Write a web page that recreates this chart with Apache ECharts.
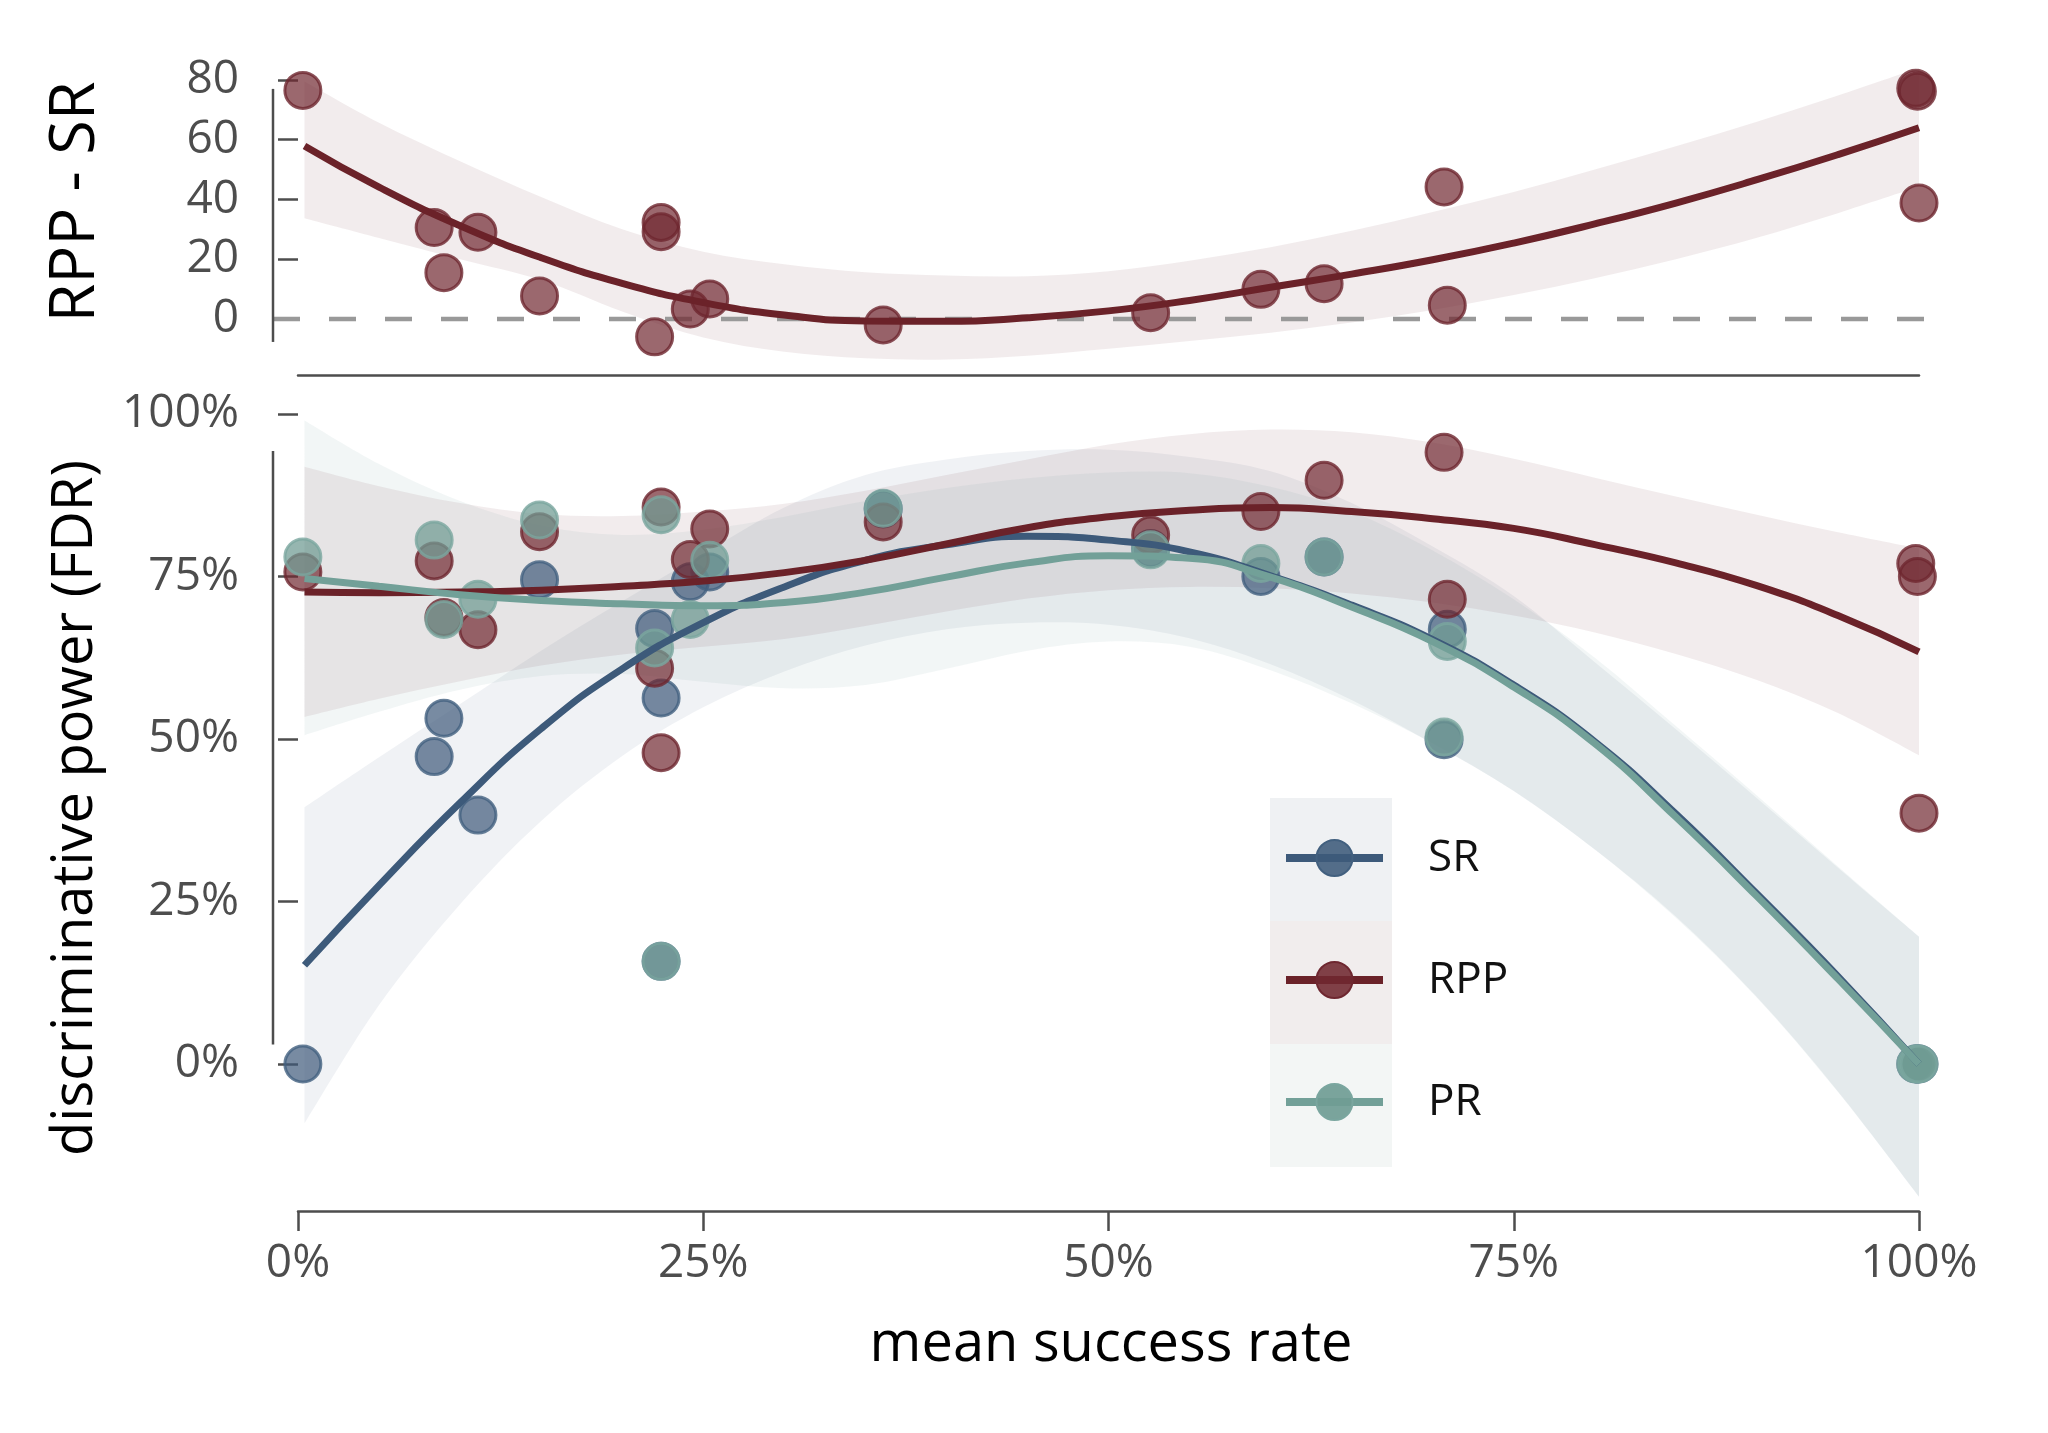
<!DOCTYPE html>
<html>
<head>
<meta charset="utf-8">
<script src="https://cdn.jsdelivr.net/npm/echarts@6/dist/echarts.min.js"></script>
<style>
  html, body { margin: 0; padding: 0; background: #fff; }
  #chart { width: 2048px; height: 1433px; }
</style>
</head>
<body>
<div id="chart"></div>
<script>
// one entry per task, x = mean success rate (%)
const successRate = [0.3, 8.4, 9.0, 11.1, 14.9, 22.0, 22.4, 22.4, 24.2, 25.4, 36.1, 52.6, 59.4, 63.3, 70.7, 70.9, 99.8, 99.9, 100];
const srPower  = [0, 47.3, 53.2, 38.3, 74.5, 67.0, 56.3, 15.8, 74.2, 75.7, 85.4, 79.3, 75.0, 78.0, 49.9, 66.9, 0, 0, 0];
const rppPower = [75.7, 77.4, 68.7, 66.8, 81.9, 60.9, 85.7, 47.9, 77.6, 82.3, 83.4, 81.4, 85.0, 89.8, 94.1, 71.5, 77.0, 75.0, 38.6];
const prPower  = [78.0, 80.6, 68.4, 71.5, 83.7, 64.0, 84.5, 15.8, 68.4, 77.5, 85.5, 79.1, 77.0, 78.0, 50.3, 65.0, 0, 0, 0];
const rppMinusSr = [76.5, 30.6, 15.5, 29.0, 7.7, -6.0, 29.2, 32.3, 3.3, 6.7, -2.0, 2.1, 9.9, 11.8, 44.2, 4.6, 77.2, 76.2, 38.8];

// fitted curves and their confidence bands, read at these x positions
const fitX = [0.4, 5, 10, 15, 20, 25, 30, 35, 40, 45, 50, 55, 60, 65, 70, 75, 80, 85, 90, 95, 100];
const srFit   = [15.2, 27.5, 40.2, 51.6, 60.8, 67.9, 73.4, 77.5, 79.9, 81.2, 80.6, 78.8, 75.1, 70.6, 65.3, 58.3, 49.6, 38.5, 26.2, 13.5, 0];
const srUpper = [39.5, 47.2, 55.4, 63.6, 71.2, 78.5, 85.6, 90.6, 93.0, 94.3, 94.5, 93.4, 91.2, 86.3, 79.6, 72.0, 61.8, 51.5, 40.9, 30.2, 19.6];
const srLower = [-9.1, 9.1, 24.6, 37.4, 47.4, 54.9, 60.4, 64.4, 66.9, 67.9, 67.6, 65.5, 61.5, 56.0, 49.3, 42.0, 33.0, 22.7, 10.3, -4.2, -20.4];
const rppFit   = [72.6, 72.5, 72.6, 72.9, 73.5, 74.3, 75.6, 77.5, 80.0, 82.5, 84.2, 85.2, 85.6, 85.0, 83.9, 82.4, 79.9, 77.1, 73.6, 69.0, 63.4];
const rppUpper = [91.9, 88.9, 86.3, 84.6, 84.3, 85.0, 86.2, 88.2, 90.6, 93.0, 95.3, 96.9, 97.6, 97.2, 95.6, 93.1, 90.2, 87.3, 84.5, 81.8, 79.3];
const rppLower = [53.4, 56.2, 58.9, 61.3, 63.0, 64.2, 65.4, 67.4, 69.6, 71.6, 72.9, 73.4, 73.2, 72.4, 71.0, 69.0, 66.4, 63.1, 59.1, 54.0, 47.5];
const prFit   = [74.7, 73.5, 72.2, 71.3, 70.8, 70.5, 71.0, 72.6, 74.9, 77.1, 78.2, 77.8, 74.9, 70.3, 65.0, 58.0, 49.3, 38.0, 25.8, 13.1, 0];
const prUpper = [99.0, 92.3, 86.6, 82.8, 81.4, 82.2, 84.2, 86.6, 88.6, 90.1, 91.0, 90.9, 88.8, 85.0, 79.0, 71.5, 62.5, 52.0, 41.3, 30.4, 19.6];
const prLower = [50.6, 54.2, 57.6, 59.7, 60.0, 58.8, 57.8, 58.3, 60.8, 63.6, 65.0, 64.2, 60.6, 55.5, 49.3, 42.0, 33.0, 22.5, 10.2, -4.3, -20.4];
const diffFit   = [57.9, 44.1, 31.2, 20.5, 11.9, 5.5, 1.3, -0.7, -0.8, 0.4, 2.7, 6.2, 10.6, 15.0, 19.8, 25.4, 31.8, 38.8, 46.6, 55.0, 64.0];
const diffUpper = [79.5, 65.7, 52.8, 40.8, 30.0, 22.5, 18.3, 15.6, 14.5, 14.3, 16.0, 19.5, 24.0, 29.5, 35.8, 42.5, 50.0, 57.8, 66.0, 74.8, 84.0];
const diffLower = [33.7, 27.1, 20.0, 13.0, 2.5, -6.2, -11.0, -13.2, -13.6, -12.3, -10.0, -7.4, -4.6, -1.2, 3.0, 8.0, 13.6, 20.0, 27.2, 35.4, 44.3];

// ticks
const topTicks = [0, 20, 40, 60, 80];
const bottomTicks = [0, 25, 50, 75, 100];
const legendNames = ['SR', 'RPP', 'PR'];

// trimmed spines (data units)
const topSpine = [-7.7, 77];
const bottomSpine = [3, 94.3];
const zeroLineEnd = 102;

const C = {
  sr: '#3d5a7a', rpp: '#6b2229', pr: '#72a098',
  srPt: 'rgba(62,90,122,0.88)', rppPt: 'rgba(112,40,48,0.88)', prPt: 'rgba(112,156,148,0.92)',
  srEdge: '#42607f', rppEdge: '#6e2730', prEdge: '#7aa69f',
  srBand: 'rgba(62,90,122,0.08)', rppBand: 'rgba(107,34,41,0.085)', prBand: 'rgba(114,160,152,0.09)',
  axis: '#4d4d4d'
};
const FONT = 'Open Sans';
const Y_OFFSET = 25;

const chart = echarts.init(document.getElementById('chart'));

function zip(xs, ys) { return xs.map((x, i) => [x, ys[i]]); }

// cubic segments through pixel points (same idea as a smoothed line)
function curveThrough(pts) {
  let d = '';
  for (let i = 0; i < pts.length - 1; i++) {
    const p0 = pts[Math.max(i - 1, 0)], p1 = pts[i], p2 = pts[i + 1], p3 = pts[Math.min(i + 2, pts.length - 1)];
    const c1 = [p1[0] + (p2[0] - p0[0]) / 6, p1[1] + (p2[1] - p0[1]) / 6];
    const c2 = [p2[0] - (p3[0] - p1[0]) / 6, p2[1] - (p3[1] - p1[1]) / 6];
    d += ' C' + c1[0] + ',' + c1[1] + ' ' + c2[0] + ',' + c2[1] + ' ' + p2[0] + ',' + p2[1];
  }
  return d;
}

function band(id, upper, lower, color, g) {
  return {
    type: 'custom', name: id, xAxisIndex: g, yAxisIndex: g, z: 1, silent: true,
    data: [[fitX[0], upper[0]]],
    renderItem: function (params, api) {
      const up = fitX.map((x, i) => api.coord([x, upper[i]]));
      const lo = fitX.map((x, i) => api.coord([x, lower[i]])).reverse();
      const d = 'M' + up[0][0] + ',' + up[0][1] + curveThrough(up) +
        ' L' + lo[0][0] + ',' + lo[0][1] + curveThrough(lo) + ' Z';
      return { type: 'path', shape: { pathData: d }, style: { fill: color } };
    }
  };
}

function points(name, ys, fill, edge, g) {
  return {
    type: 'scatter', name: name, xAxisIndex: g, yAxisIndex: g, z: 3, silent: true,
    symbolSize: 36, data: zip(successRate, ys),
    itemStyle: { color: fill, borderColor: edge, borderWidth: 3 }
  };
}

function fit(name, ys, color, fill, edge, g) {
  return {
    type: 'line', name: name, xAxisIndex: g, yAxisIndex: g, z: 4, silent: true,
    smooth: 0.5, symbol: 'circle', showSymbol: false, data: zip(fitX, ys),
    lineStyle: { color: color, width: 7 },
    itemStyle: { color: fill, borderColor: edge, borderWidth: 3 }
  };
}

const tickStyle = { color: C.axis, width: 2.5 };
const labelStyle = { fontFamily: FONT, fontSize: 46, color: C.axis };

const option = {
  animation: false,
  backgroundColor: '#fff',
  textStyle: { fontFamily: FONT },
  grid: [
    { left: 298, right: 129, top: 65, height: 310.7 },
    { left: 298, right: 129, top: 414, height: 797 }
  ],
  xAxis: [
    {
      gridIndex: 0, type: 'value', min: 0, max: 100,
      axisLine: { onZero: false, lineStyle: tickStyle },
      axisTick: { show: false }, axisLabel: { show: false }, splitLine: { show: false }
    },
    {
      gridIndex: 1, type: 'value', min: 0, max: 100, interval: 25,
      axisLine: { onZero: false, lineStyle: tickStyle },
      axisTick: { show: true, length: 20, lineStyle: tickStyle },
      axisLabel: Object.assign({ margin: 30, formatter: '{value}%' }, labelStyle),
      splitLine: { show: false }
    }
  ],
  yAxis: [
    {
      gridIndex: 0, type: 'value', min: -19, max: 85, offset: Y_OFFSET,
      axisLine: { show: false },
      axisTick: { show: true, length: 20, lineStyle: tickStyle, customValues: topTicks },
      axisLabel: Object.assign({ margin: 34, customValues: topTicks }, labelStyle),
      splitLine: { show: false }
    },
    {
      gridIndex: 1, type: 'value', min: -22.6, max: 100, offset: Y_OFFSET,
      axisLine: { show: false },
      axisTick: { show: true, length: 20, lineStyle: tickStyle, customValues: bottomTicks },
      axisLabel: Object.assign({ margin: 34, customValues: bottomTicks, formatter: '{value}%' }, labelStyle),
      splitLine: { show: false }
    }
  ],
  legend: {
    data: legendNames, orient: 'vertical', left: 1282, top: 836, padding: 0,
    itemWidth: 97, itemHeight: 45, itemGap: 78, selectedMode: false, z: 10,
    lineStyle: { width: 8 },
    textStyle: { fontFamily: FONT, fontSize: 44, color: '#111', padding: [0, 0, 0, 40] }
  },
  series: [
    band('diffBand', diffUpper, diffLower, C.rppBand, 0),
    points('RPP - SR', rppMinusSr, C.rppPt, C.rppEdge, 0),
    fit('RPP - SR fit', diffFit, C.rpp, C.rppPt, C.rppEdge, 0),
    band('srBand', srUpper, srLower, C.srBand, 1),
    band('rppBand', rppUpper, rppLower, C.rppBand, 1),
    band('prBand', prUpper, prLower, C.prBand, 1),
    points('SR pts', srPower, C.srPt, C.srEdge, 1),
    points('RPP pts', rppPower, C.rppPt, C.rppEdge, 1),
    points('PR pts', prPower, C.prPt, C.prEdge, 1),
    fit('SR', srFit, C.sr, C.srPt, C.srEdge, 1),
    fit('RPP', rppFit, C.rpp, C.rppPt, C.rppEdge, 1),
    fit('PR', prFit, C.pr, C.prPt, C.prEdge, 1)
  ]
};

chart.setOption(option);

// spines, zero line, titles and legend patches
function decorate() {
  const px = (g, x, y) => chart.convertToPixel({ gridIndex: g }, [x, y]);
  const spineX = px(0, 0, 0)[0] - Y_OFFSET;
  const t0 = px(0, 0, topSpine[0]), t1 = px(0, 0, topSpine[1]);
  const b0 = px(1, 0, bottomSpine[0]), b1 = px(1, 0, bottomSpine[1]);
  const z0 = px(0, zeroLineEnd, 0);
  const line = (x1, y1, x2, y2, style, z) => ({
    type: 'line', silent: true, z: z || 5,
    shape: { x1: x1, y1: y1, x2: x2, y2: y2 },
    style: Object.assign({ stroke: C.axis, lineWidth: 2.5 }, style || {})
  });
  const title = (text, x, y, rot, size) => ({
    type: 'text', x: x, y: y, rotation: rot || 0, silent: true,
    style: { text: text, fontFamily: FONT, fontSize: size || 56, fill: '#000', align: 'center', verticalAlign: 'middle' }
  });
  const patch = (y, color) => ({
    type: 'rect', silent: true, z: 0,
    shape: { x: 1270, y: y, width: 122, height: 123 }, style: { fill: color }
  });
  chart.setOption({
    graphic: { elements: [
      line(spineX, t0[1], spineX, t1[1]),
      line(spineX, b0[1], spineX, b1[1]),
      line(spineX, z0[1], z0[0], z0[1], { stroke: '#999', lineWidth: 4.5, lineDash: [27, 29] }, 1.5),
      title('RPP - SR', 76, 202, Math.PI / 2, 63),
      title('discriminative power (FDR)', 76, 808, Math.PI / 2),
      title('mean success rate', 1111, 1345, 0),
      patch(798, '#eff1f3'),
      patch(921, '#f1eded'),
      patch(1044, '#f3f6f5')
    ] }
  });
}
decorate();
</script>
</body>
</html>
